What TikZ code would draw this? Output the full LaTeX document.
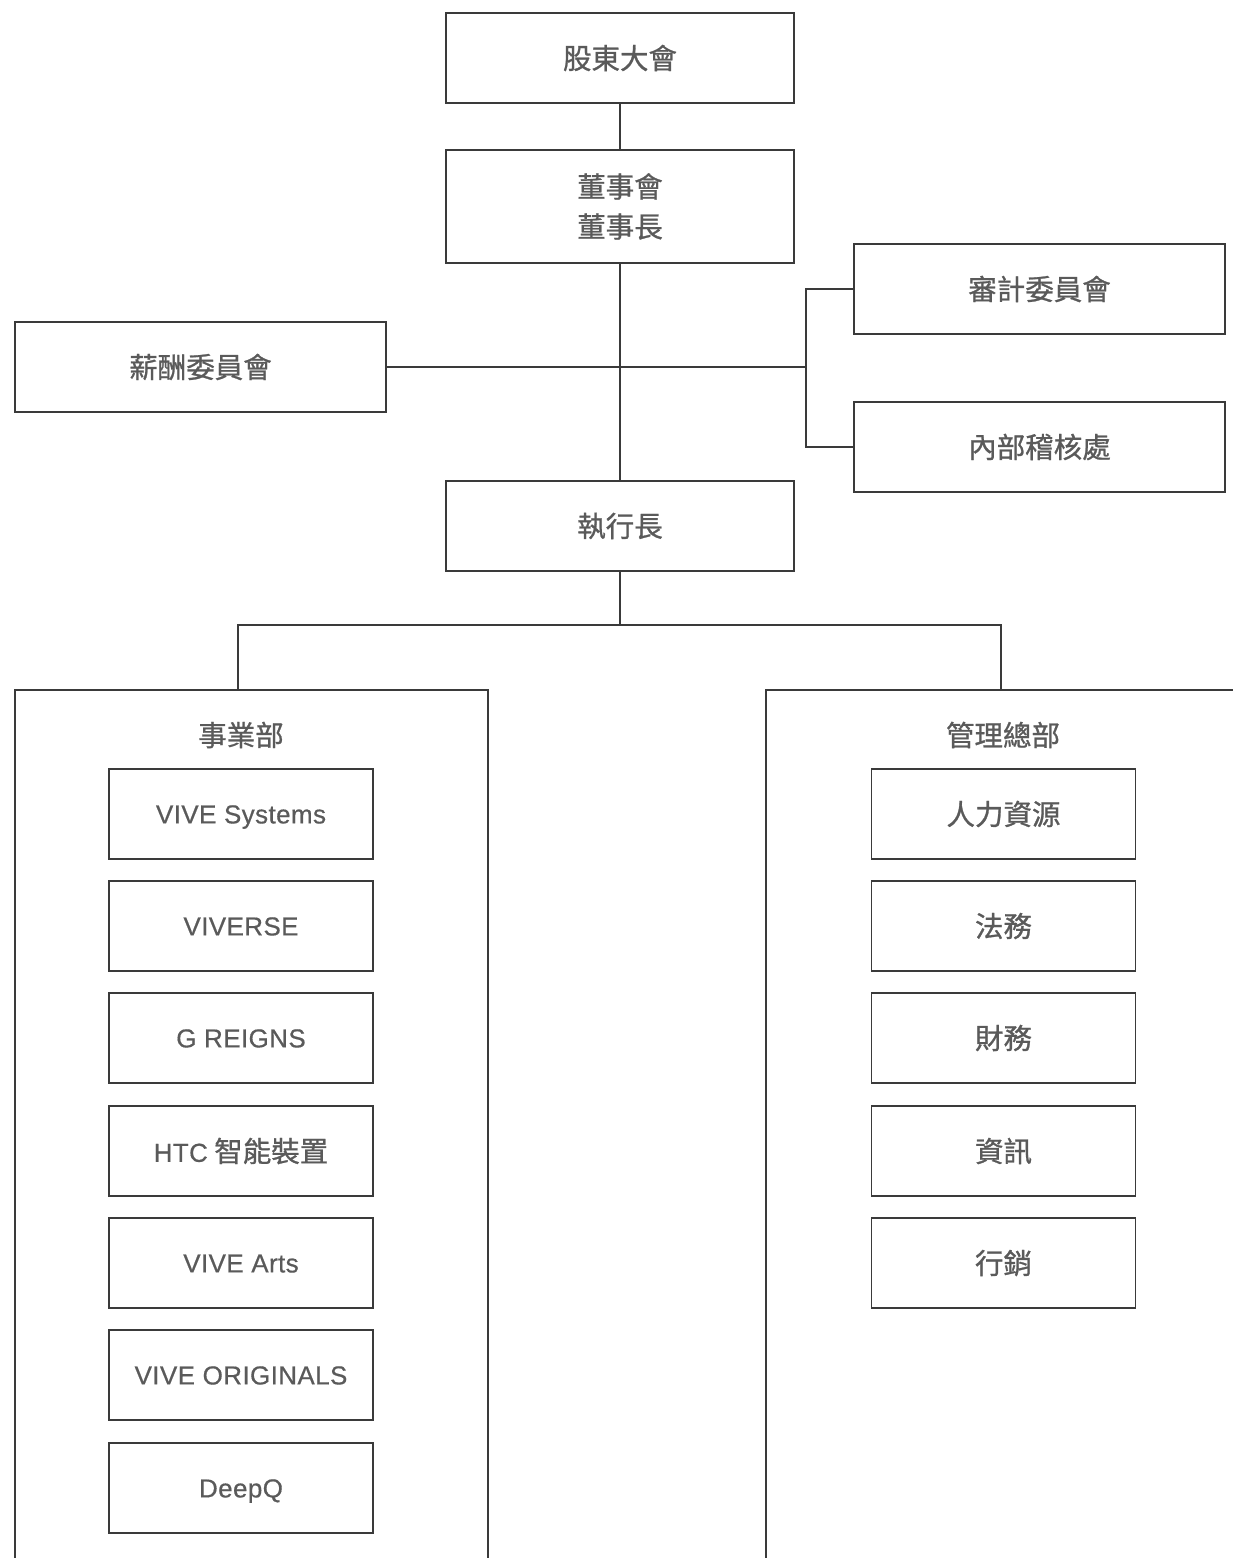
\documentclass[tikz,border=0pt]{standalone}
\usepackage{fontspec}
\setmainfont{Noto Sans CJK TC}[FakeBold=0.9]
\newfontfamily\latfont{Liberation Sans}[LetterSpace=1.5,FakeBold=0.5]
\newcommand{\lat}[1]{{\latfont\fontsize{26}{32}\selectfont #1}}
\definecolor{txt}{HTML}{5A5A5A}
\definecolor{edge}{HTML}{3A3A3A}
\begin{document}
\begin{tikzpicture}[x=1pt,y=-1pt,
  box/.style={draw=edge,line width=1.2pt,fill=white,text=txt,inner sep=0pt,align=center,
    font=\fontsize{28.5}{40}\selectfont},
  topbox/.style={box,minimum width=348pt,minimum height=90pt},
  sidebox/.style={box,minimum width=371pt,minimum height=90pt},
  unitbox/.style={box,minimum width=264pt,minimum height=90pt},
  latbox/.style={unitbox,text height=22pt,text depth=3.2pt},
  link/.style={draw=edge,line width=1.2pt},
  lbl/.style={text=txt,font=\fontsize{28.5}{32}\selectfont}]
\useasboundingbox (0,0) rectangle (1233,1558);
\clip (0,0) rectangle (1233,1558);
% departments (open frames)
\draw[link] (15,1560) -- (15,690) -- (488,690) -- (488,1560);
\draw[link] (766,1560) -- (766,690) -- (1240,690);
\coordinate (bizTop) at (238,690);
\coordinate (admTop) at (1001,690);
\node[lbl] (biz) at (241,735) {事業部};
\node[lbl] (adm) at (1003,735) {管理總部};
% top chain
\node[topbox] (sh) at (620,58) {股東大會};
\node[topbox,minimum height=113pt] (bd) at (620,206.5) {董事會\\董事長};
\node[sidebox] (aud) at (1039.5,289) {審計委員會};
\node[sidebox] (rem) at (200.5,367) {薪酬委員會};
\node[sidebox] (ia) at (1039.5,447) {內部稽核處};
\node[topbox] (ceo) at (620,526) {執行長};
\coordinate (br) at (806,367);
\coordinate (split) at (620,625);
\draw[link] (sh) -- (bd);
\draw[link] (bd) -- (ceo);
\draw[link] (rem.east) -- (br);
\draw[link] (aud.west) -| (br) |- (ia.west);
\draw[link] (ceo) -- (split);
\draw[link] (bizTop) |- (split) -| (admTop);
% business units
\node[latbox] (u1) at (241,814) {\lat{VIVE Systems}};
\node[latbox] (u2) at (241,926) {\lat{VIVERSE}};
\node[latbox] (u3) at (241,1038) {\lat{G REIGNS}};
\node[unitbox] (u4) at (241,1151) {\lat{HTC} 智能裝置};
\node[latbox] (u5) at (241,1263) {\lat{VIVE Arts}};
\node[latbox] (u6) at (241,1375) {\lat{VIVE ORIGINALS}};
\node[latbox] (u7) at (241,1488) {\lat{DeepQ}};
% admin units
\node[unitbox] (a1) at (1003.5,814) {人力資源};
\node[unitbox] (a2) at (1003.5,926) {法務};
\node[unitbox] (a3) at (1003.5,1038) {財務};
\node[unitbox] (a4) at (1003.5,1151) {資訊};
\node[unitbox] (a5) at (1003.5,1263) {行銷};
\end{tikzpicture}
\end{document}
